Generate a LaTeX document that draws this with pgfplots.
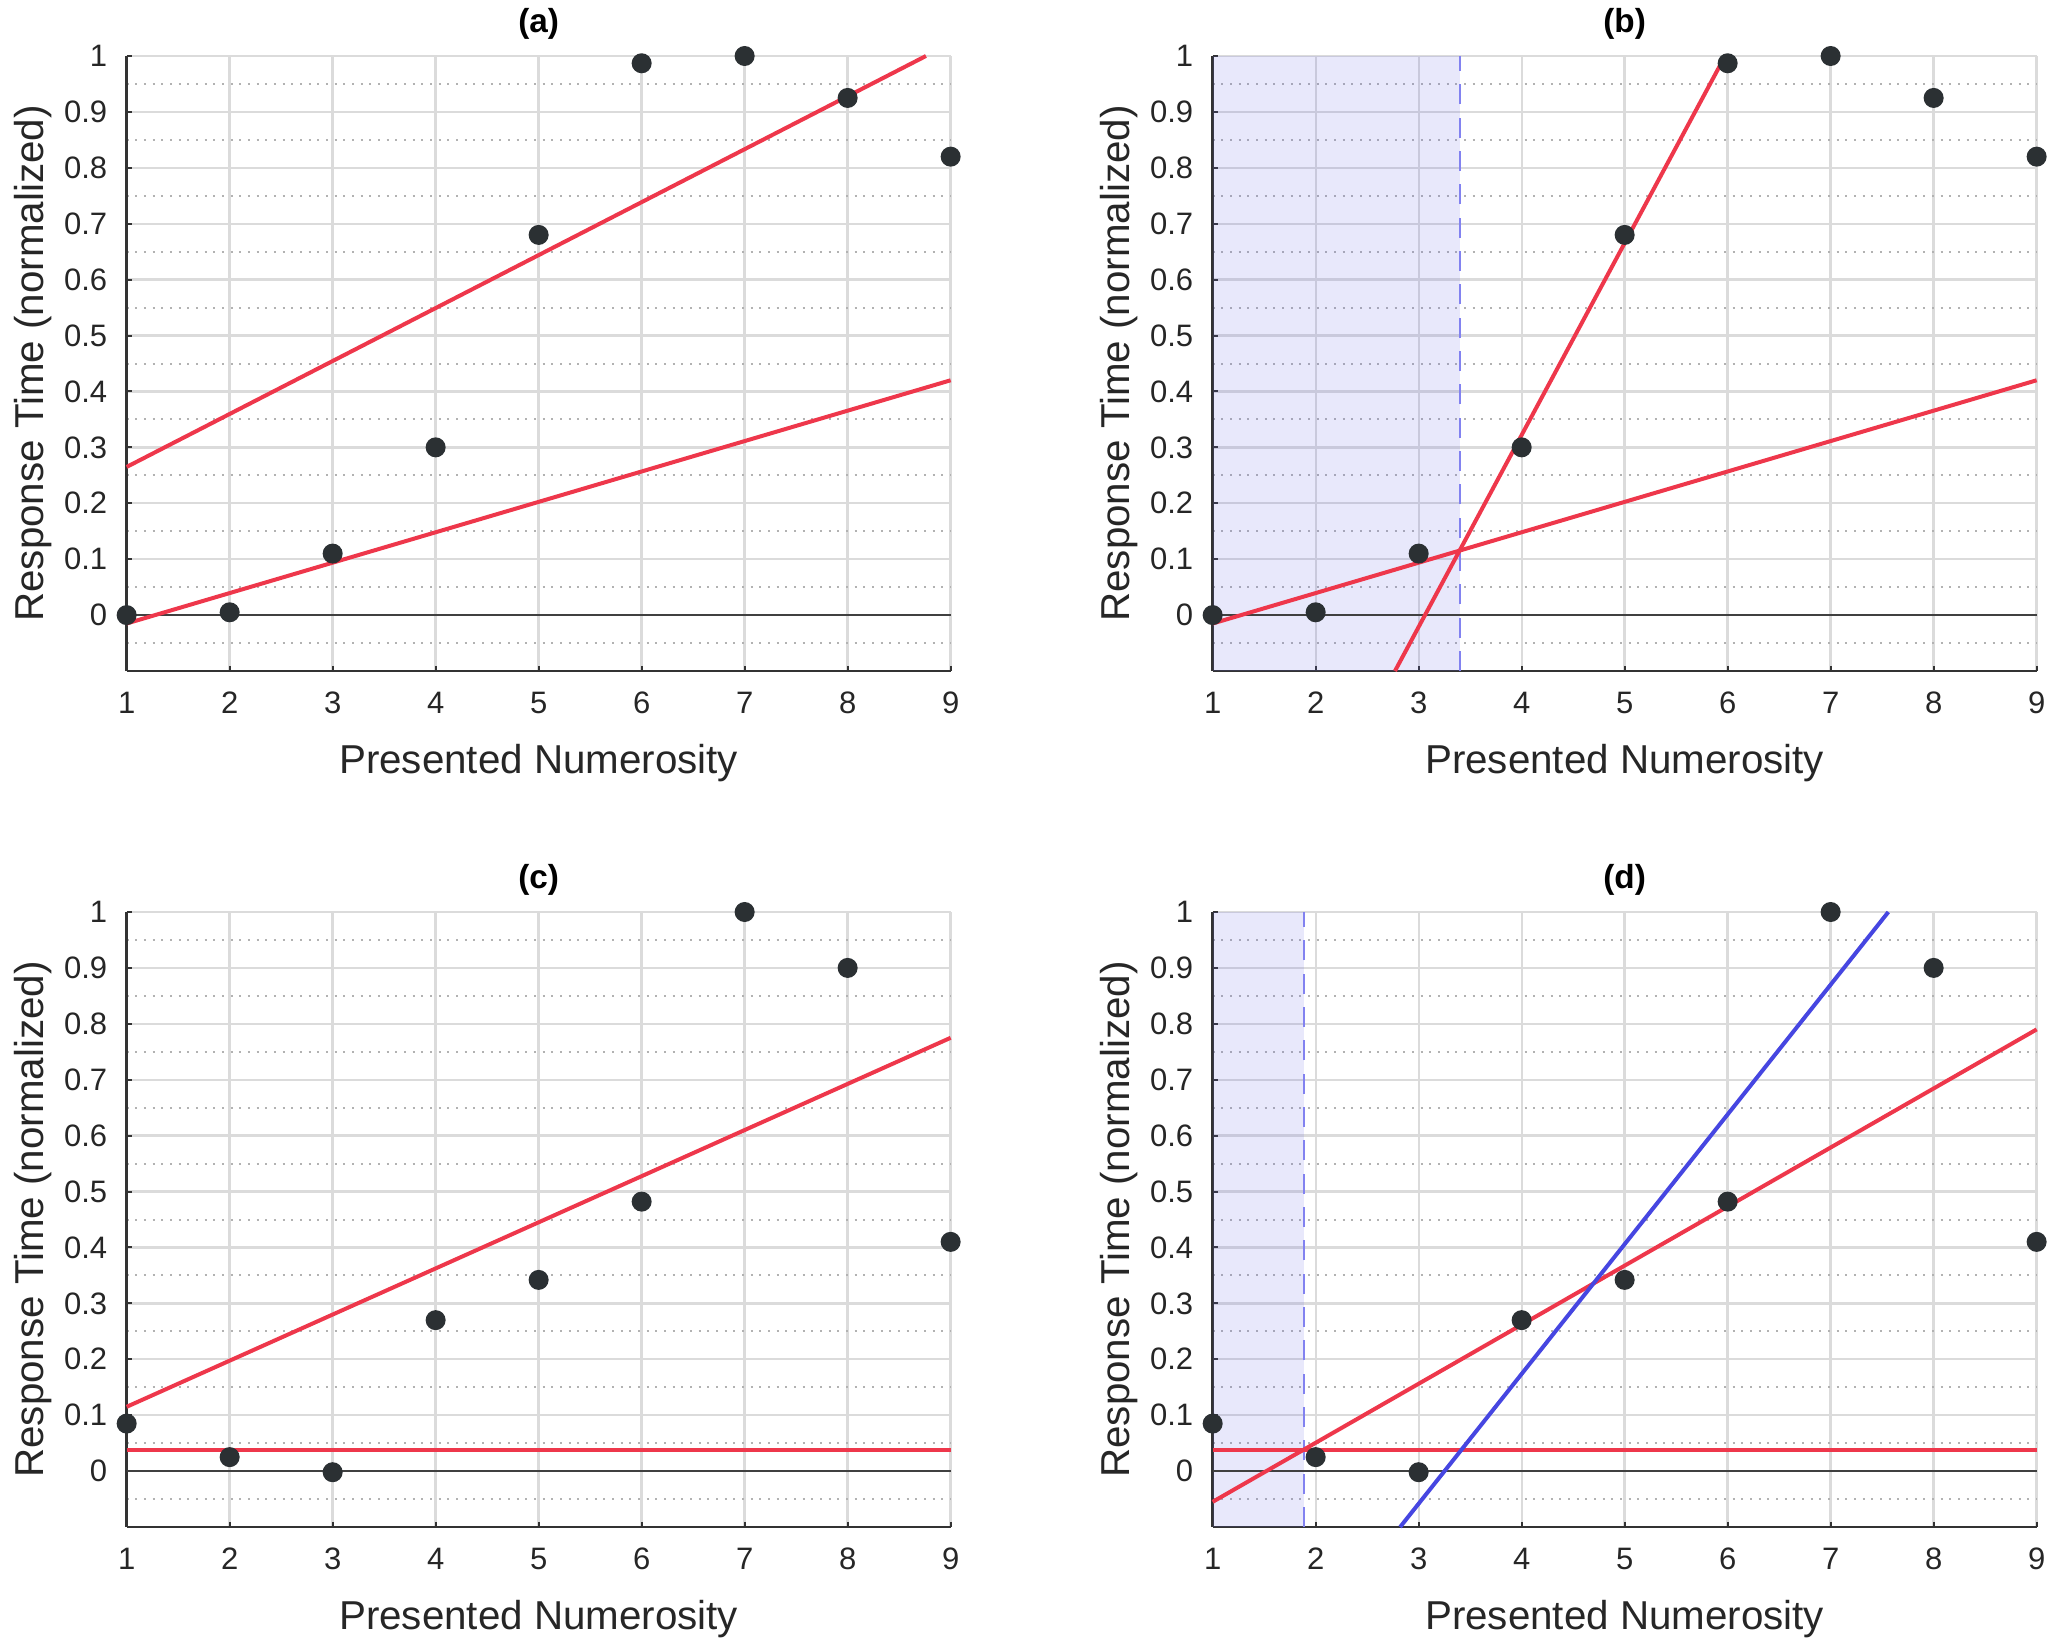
\documentclass[border=0pt]{standalone}
\usepackage{fontspec}
\setmainfont{Liberation Sans}
\usepackage{pgfplots}
\pgfplotsset{compat=1.18}
\definecolor{fitred}{RGB}{238,55,75}
\definecolor{fitblue}{RGB}{70,70,225}
\definecolor{dotc}{RGB}{43,48,51}
\definecolor{shade}{RGB}{100,100,230}
\definecolor{dashc}{RGB}{130,130,240}
\pgfplotsset{
  panel/.style={
    width=247.2pt, height=184.5pt, scale only axis,
    anchor=south west,
    xmin=1, xmax=9, ymin=-0.1, ymax=1,
    clip=false,
    axis lines*=left,
    axis line style={draw=black!80, line width=0.8pt},
    xtick={1,2,3,4,5,6,7,8,9},
    ytick={0,0.1,0.2,0.3,0.4,0.5,0.6,0.7,0.8,0.9,1},
    minor ytick={-0.05,0.05,0.15,0.25,0.35,0.45,0.55,0.65,0.75,0.85,0.95},
    grid=both,
    major grid style={draw=black!14, line width=0.7pt},
    minor grid style={draw=black!30, line width=0.6pt, dotted},
    tick align=inside,
    major tick length=1.5pt, minor tick length=0pt,
    tick style={draw=black!80, line width=0.6pt},
    /pgf/number format/assume math mode=true,
    ticklabel style={font=\fontsize{9.3}{11}\selectfont, text=black!85},
    xticklabel style={anchor=center, yshift=-9.6pt},
    yticklabel style={xshift=-2.3pt},
    xlabel={Presented Numerosity},
    ylabel={Response Time (normalized)},
    label style={font=\fontsize{12.1}{14}\selectfont, text=black!85},
    xlabel style={at={(axis description cs:0.5,-0.1496)}, anchor=center},
    ylabel style={at={(axis description cs:-0.113,0.5)}, anchor=center},
    title style={at={(axis description cs:0.5,1.053)}, anchor=center, yshift=-6pt, font=\bfseries\fontsize{10}{11}\selectfont},
  },
  dots/.style={only marks, mark=*, mark size=2.8pt, mark options={fill=dotc, draw=dotc}},
  fit/.style={fitred, line width=1.2pt, no marks},
  zero/.style={black!75, line width=0.7pt, no marks, forget plot},
}
\pgfplotstableread{
x y
1 0.000
2 0.005
3 0.110
4 0.300
5 0.680
6 0.987
7 1.000
8 0.925
9 0.820
}\dataAB
\pgfplotstableread{
x y
1 0.085
2 0.025
3 -0.002
4 0.270
5 0.342
6 0.482
7 1.000
8 0.900
9 0.410
}\dataCD
\begin{document}
\begin{tikzpicture}
\useasboundingbox (0,0) rectangle (616.5pt,491.1pt);
% (a)
\begin{axis}[panel, at={(38pt,289.8pt)}, title={(a)}]
\addplot[zero] coordinates {(1,0) (9,0)};
\addplot[fit] coordinates {(1,0.265) (8.76,1.0)};
\addplot[fit] coordinates {(1,-0.015) (9,0.42)};
\addplot[dots] table {\dataAB};
\end{axis}
% (b)
\begin{axis}[panel, at={(363.8pt,289.8pt)}, title={(b)}]
\addplot[fill=shade, fill opacity=0.15, draw=none, forget plot] coordinates {(1,-0.1) (3.4,-0.1) (3.4,1) (1,1)};
\addplot[dashc, line width=0.6pt, dash pattern=on 6pt off 4pt, forget plot] coordinates {(3.4,-0.1) (3.4,1)};
\addplot[zero] coordinates {(1,0) (9,0)};
\addplot[fit] coordinates {(1,-0.015) (9,0.42)};
\addplot[fit] coordinates {(2.77,-0.1) (5.94,0.988)};
\addplot[dots] table {\dataAB};
\end{axis}
% (c)
\begin{axis}[panel, at={(38pt,33pt)}, title={(c)}]
\addplot[zero] coordinates {(1,0) (9,0)};
\addplot[fit] coordinates {(1,0.037) (9,0.037)};
\addplot[fit] coordinates {(1,0.115) (9,0.775)};
\addplot[dots] table {\dataCD};
\end{axis}
% (d)
\begin{axis}[panel, at={(363.8pt,33pt)}, title={(d)}]
\addplot[fill=shade, fill opacity=0.15, draw=none, forget plot] coordinates {(1,-0.1) (1.89,-0.1) (1.89,1) (1,1)};
\addplot[dashc, line width=0.6pt, dash pattern=on 6pt off 4pt, forget plot] coordinates {(1.89,-0.1) (1.89,1)};
\addplot[zero] coordinates {(1,0) (9,0)};
\addplot[fit] coordinates {(1,0.037) (9,0.037)};
\addplot[fit] coordinates {(1,-0.055) (9,0.79)};
\addplot[fitblue, line width=1.2pt, no marks] coordinates {(2.82,-0.1) (7.56,1.0)};
\addplot[dots] table {\dataCD};
\end{axis}
\end{tikzpicture}
\end{document}
